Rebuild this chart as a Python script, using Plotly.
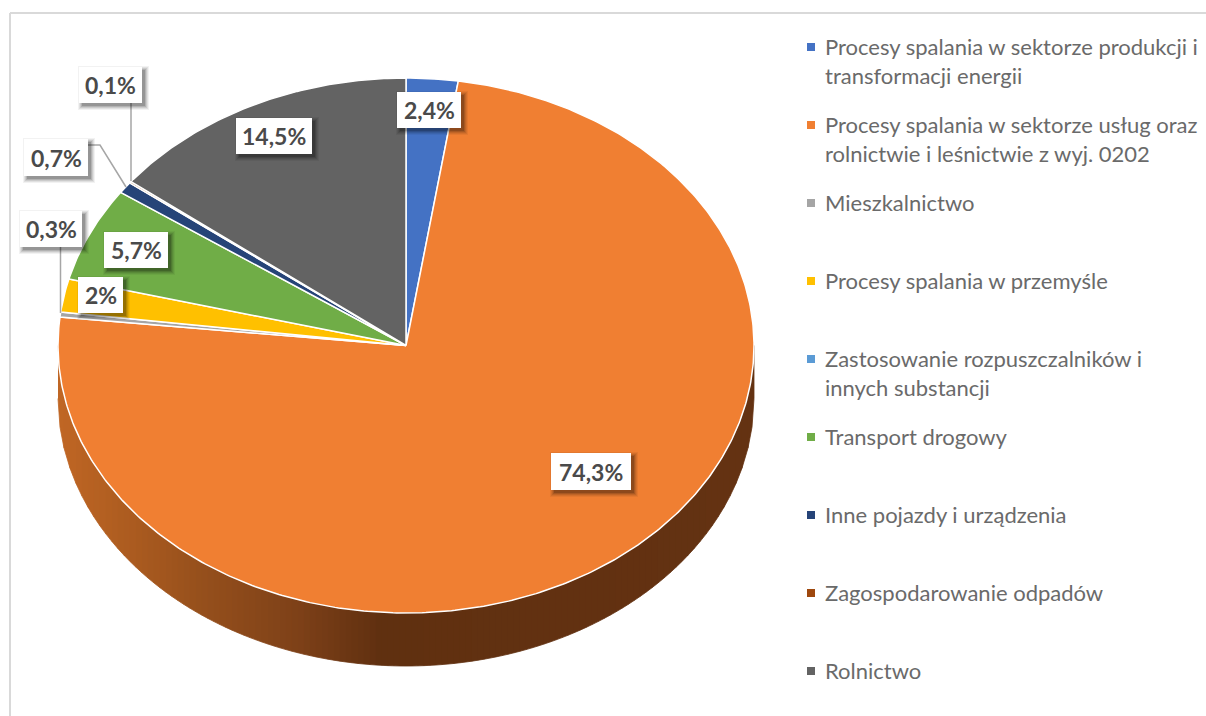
import numpy as np
import plotly.graph_objects as go

categories = [
    "Procesy spalania w sektorze produkcji i\ntransformacji energii",
    "Procesy spalania w sektorze usług oraz\nrolnictwie i leśnictwie z wyj. 0202",
    "Mieszkalnictwo",
    "Procesy spalania w przemyśle",
    "Zastosowanie rozpuszczalników i\ninnych substancji",
    "Transport drogowy",
    "Inne pojazdy i urządzenia",
    "Zagospodarowanie odpadów",
    "Rolnictwo",
]
values = [2.4, 74.3, 0.3, 2.0, 0.0, 5.7, 0.7, 0.1, 14.5]
colors = ["#4472C4", "#F07F32", "#A5A5A5", "#FFC000", "#5B9BD5",
          "#70AD47", "#264478", "#9E480E", "#636363"]
value_labels = ["2,4%", "74,3%", "0,3%", "2%", None, "5,7%", "0,7%", "0,1%", "14,5%"]

# label box placement (x0, y0, x1, y1) in figure pixels
label_boxes = [(397, 92, 461, 128), (551, 453, 631, 490), (20, 211, 82, 247),
               (78, 277, 123, 313), None, (104, 232, 168, 268),
               (24, 139, 88, 176), (79, 67, 142, 103), (236, 118, 312, 154)]
leaders = [
    [(131, 103), (131, 181)],
    [(88, 145), (100, 145), (126, 187)],
    [(60.5, 247), (60.5, 313)],
]
# side-wall shading stops: x pixel, rgb
wall_stops_x = [58, 130, 200, 300, 380, 754]
wall_stops_c = [(192, 102, 36), (172, 92, 32), (150, 80, 28), (125, 64, 24), (96, 48, 16), (100, 50, 18)]

CX, CY, RX, RY, DEPTH = 406, 345.5, 348, 267.5, 53
FONT = "Lato, Carlito, Calibri, sans-serif"

fig = go.Figure()

# side wall
edges = np.linspace(CX - RX, CX + RX, 117)
for a, b in zip(edges[:-1], edges[1:]):
    xs = np.linspace(a, b, 4)
    top = CY + RY * np.sqrt(np.clip(1 - ((xs - CX) / RX) ** 2, 0, 1))
    mid = (a + b) / 2
    c = [np.interp(mid, wall_stops_x, [s[i] for s in wall_stops_c]) for i in range(3)]
    col = f"rgb({c[0]:.0f},{c[1]:.0f},{c[2]:.0f})"
    fig.add_trace(go.Scatter(
        x=np.r_[xs, xs[::-1]], y=np.r_[top, (top + DEPTH)[::-1]],
        mode="lines", fill="toself", fillcolor=col,
        line=dict(color=col, width=0.8), hoverinfo="skip", showlegend=False))

# wedges
cum = np.cumsum([0] + values) / sum(values) * 2 * np.pi
for i, (name, v, col) in enumerate(zip(categories, values, colors)):
    if v <= 0:
        continue
    t = np.linspace(cum[i], cum[i + 1], max(3, int(v * 6)))
    fig.add_trace(go.Scatter(
        x=np.r_[CX, CX + RX * np.sin(t), CX],
        y=np.r_[CY, CY - RY * np.cos(t), CY],
        mode="lines", fill="toself", fillcolor=col,
        line=dict(color="white", width=1.5),
        name=name.replace("\n", " "), hovertemplate="%{fullData.name}<extra></extra>",
        showlegend=False))

# leader lines
for pts in leaders:
    fig.add_trace(go.Scatter(x=[p[0] for p in pts], y=[p[1] for p in pts], mode="lines",
                             line=dict(color="#A6A6A6", width=1.5),
                             hoverinfo="skip", showlegend=False))

# legend markers
legend_y = [47 + 78 * i for i in range(len(categories))]
fig.add_trace(go.Scatter(x=[811] * len(categories), y=legend_y, mode="markers",
                         marker=dict(symbol="square", size=8, color=colors, line=dict(width=0)),
                         hoverinfo="skip", showlegend=False))

shapes = []
annotations = []
# frame
shapes.append(dict(type="line", x0=10, x1=1206, y0=13, y1=13, line=dict(color="#D9D9D9", width=2), layer="below"))
shapes.append(dict(type="line", x0=10, x1=10, y0=13, y1=716, line=dict(color="#D9D9D9", width=2), layer="below"))

# label boxes with soft shadow
for box, lab in zip(label_boxes, value_labels):
    if box is None:
        continue
    x0, y0, x1, y1 = box
    for grow, op in [(4, 0.05), (3, 0.07), (2, 0.09), (1, 0.12), (0, 0.16)]:
        shapes.append(dict(type="rect", x0=x0 + 3 - grow, x1=x1 + 3 + grow, y0=y0 + 3 - grow, y1=y1 + 3 + grow,
                           fillcolor="black", opacity=op, line=dict(width=0), layer="above"))
    shapes.append(dict(type="rect", x0=x0, x1=x1, y0=y0, y1=y1, fillcolor="white",
                       line=dict(width=0), layer="above"))
    annotations.append(dict(x=(x0 + x1) / 2, y=(y0 + y1) / 2, text=f"<b>{lab}</b>", showarrow=False,
                            xanchor="center", yanchor="middle",
                            font=dict(family=FONT, size=23, color="#4A4A4A")))

# legend text
for name, y in zip(categories, legend_y):
    for j, line in enumerate(name.split("\n")):
        annotations.append(dict(x=823, y=y - 1 + 29 * j, text=line, showarrow=False,
                                xanchor="left", yanchor="middle",
                                font=dict(family=FONT, size=22, color="#6A6A6A")))

fig.update_layout(
    width=1206, height=716, margin=dict(l=0, r=0, t=0, b=0),
    paper_bgcolor="white", plot_bgcolor="white", showlegend=False,
    xaxis=dict(range=[0, 1206], visible=False, fixedrange=True),
    yaxis=dict(range=[716, 0], visible=False, fixedrange=True),
    shapes=shapes, annotations=annotations,
)
fig.write_html("out.html", config={"displayModeBar": False},
               post_script="document.body.style.margin='0';document.documentElement.style.overflow='hidden';")
